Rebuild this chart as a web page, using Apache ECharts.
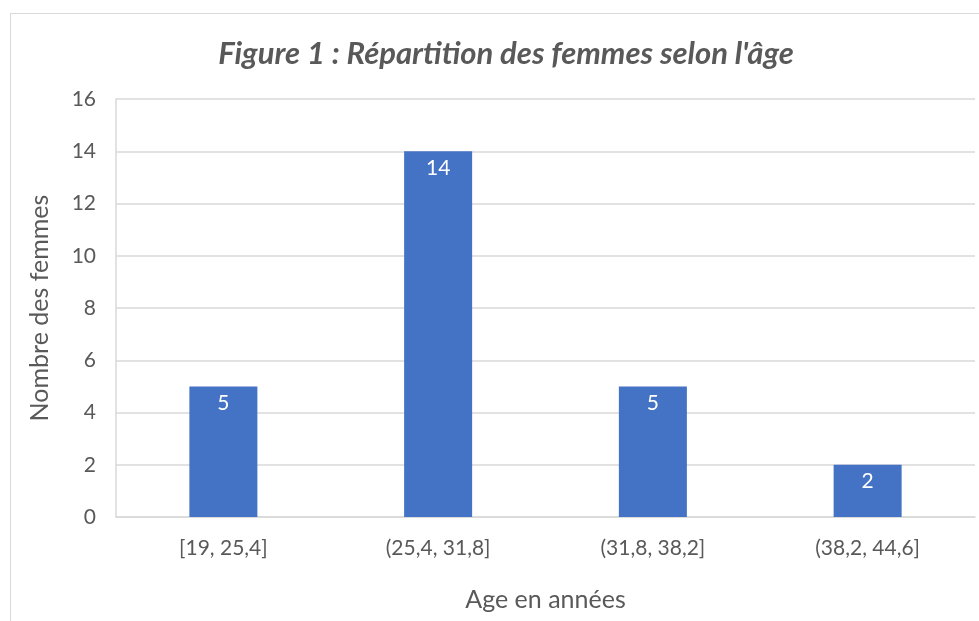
<!DOCTYPE html>
<html>
<head>
<meta charset="utf-8">
<script src="https://cdn.jsdelivr.net/npm/echarts@6/dist/echarts.min.js"></script>
<style>
  html, body { margin: 0; padding: 0; background: #fff; }
  #frame {
    position: absolute; left: 10px; top: 13px; width: 1000px; height: 640px;
    border: 1px solid #d9d9d9; box-sizing: border-box;
  }
  #chart { position: absolute; left: 0; top: 0; width: 979px; height: 621px; }
</style>
</head>
<body>
<div id="frame"></div>
<div id="chart"></div>
<script>
const categories = ['[19, 25,4]', '(25,4, 31,8]', '(31,8, 38,2]', '(38,2, 44,6]']
const counts = [5, 14, 5, 2]
const yTicks = { min: 0, max: 16, interval: 2 }

const font = 'Lato, "Open Sans", sans-serif'
const grey = '#595959'

const chart = echarts.init(document.getElementById('chart'))
const option = {
  animation: false,
  title: {
    text: "Figure 1 : Répartition des femmes selon l'âge",
    left: 501,
    top: 33,
    textAlign: 'center',
    textStyle: {
      fontFamily: font,
      fontSize: 31,
      fontWeight: 'bold',
      fontStyle: 'italic',
      color: grey
    }
  },
  grid: {
    left: 116,
    right: 4,
    top: 99,
    bottom: 104
  },
  xAxis: {
    type: 'category',
    data: categories,
    name: 'Age en années',
    nameLocation: 'middle',
    nameGap: 70,
    nameTextStyle: { fontFamily: font, fontSize: 25, color: grey },
    axisLine: { show: true, lineStyle: { color: '#d9d9d9', width: 1.5 } },
    axisTick: { show: false },
    axisLabel: { fontFamily: font, fontSize: 21, color: grey, margin: 21 }
  },
  yAxis: {
    type: 'value',
    min: yTicks.min,
    max: yTicks.max,
    interval: yTicks.interval,
    name: 'Nombre des femmes',
    nameLocation: 'middle',
    nameGap: 64,
    nameTextStyle: { fontFamily: font, fontSize: 25, color: grey },
    axisLine: { show: true, lineStyle: { color: '#d9d9d9', width: 1.5 } },
    axisTick: { show: false },
    axisLabel: { fontFamily: font, fontSize: 21, color: grey, margin: 20 },
    splitLine: { show: true, lineStyle: { color: '#d9d9d9', width: 1.5 } }
  },
  series: [
    {
      type: 'bar',
      data: counts,
      barWidth: 68,
      itemStyle: { color: '#4472c4' },
      label: {
        show: true,
        position: 'insideTop',
        distance: 6,
        fontFamily: font,
        fontSize: 21,
        color: '#fff'
      }
    }
  ]
}
chart.setOption(option)
</script>
</body>
</html>
